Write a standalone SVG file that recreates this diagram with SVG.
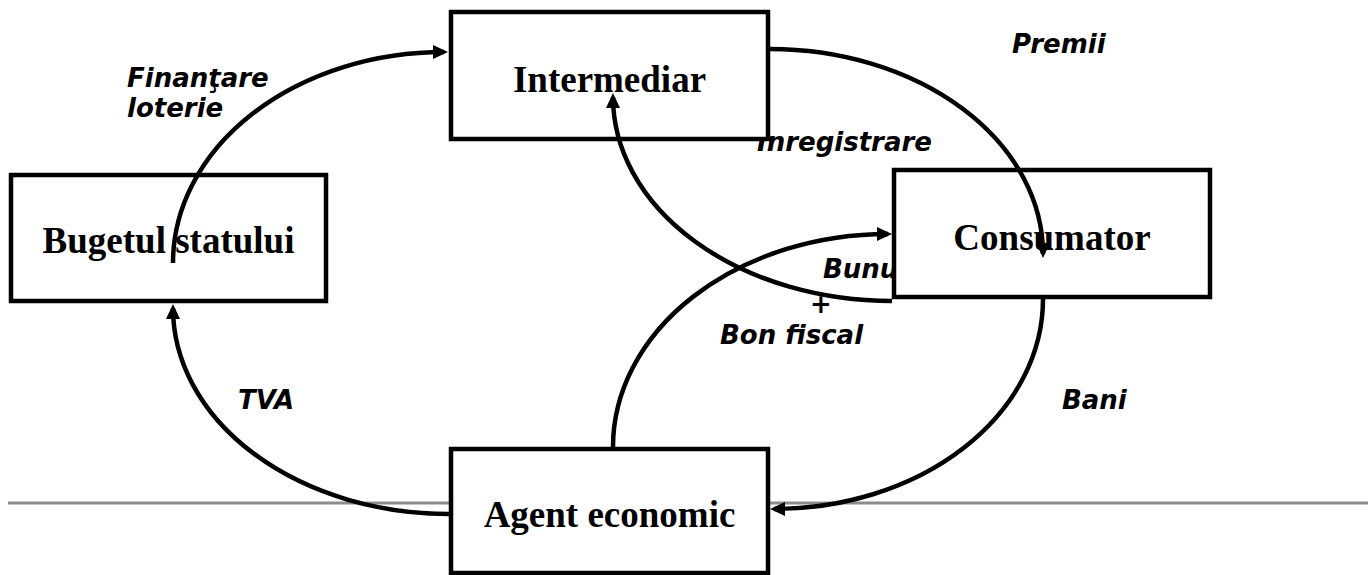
<svg xmlns="http://www.w3.org/2000/svg" width="1368" height="575" viewBox="0 0 1368 575">
<style>
.box{fill:#fff;stroke:#000;stroke-width:4.5}
.nt{font-family:"Liberation Serif","Times New Roman",serif;font-weight:bold;font-size:37px;fill:#000;text-anchor:middle}
.lb{font-family:"DejaVu Sans",Verdana,sans-serif;font-weight:bold;font-style:italic;font-size:26px;fill:#000}
.cn{fill:none;stroke:#000;stroke-width:4.5;marker-end:url(#ah)}
</style>
<defs>
<marker id="ah" markerUnits="userSpaceOnUse" markerWidth="16" markerHeight="16" refX="11" refY="7" orient="auto">
<path d="M0,0 L15,7 L0,14 z" fill="#000"/>
</marker>
</defs>
<rect width="1368" height="575" fill="#fff"/>
<line x1="8" y1="503" x2="1368" y2="503" stroke="#8c8c8c" stroke-width="3"/>
<g id="labels">
<text class="lb" x="127" y="87">Finanţare</text>
<text class="lb" x="127" y="117">loterie</text>
<text class="lb" x="1012" y="53">Premii</text>
<text class="lb" x="757" y="151">Inregistrare</text>
<text class="lb" x="823" y="278">Bunuri</text>
<text class="lb" x="821" y="313" text-anchor="middle">+</text>
<text class="lb" x="720" y="344">Bon fiscal</text>
<text class="lb" x="238" y="409">TVA</text>
<text class="lb" x="1062" y="409">Bani</text>
</g>
<g id="bugetul">
<rect class="box" x="11" y="175" width="315" height="126"/>
<text class="nt" x="168.5" y="253">Bugetul statului</text>
</g>
<g id="intermediar">
<rect class="box" x="451" y="12" width="317" height="127"/>
<text class="nt" x="609.5" y="92">Intermediar</text>
</g>
<g id="consumator">
<rect class="box" x="894" y="170" width="316" height="127"/>
<text class="nt" x="1052" y="250">Consumator</text>
</g>
<g id="agent">
<rect class="box" x="451" y="449" width="317" height="124"/>
<text class="nt" x="609.5" y="527">Agent economic</text>
</g>
<g id="connectors">
<path class="cn" d="M173,263 A271,211 0 0 1 444,52"/>
<path class="cn" d="M770,49 A273,205 0 0 1 1043,254"/>
<path class="cn" d="M892,301 A279,204 0 0 1 613,97"/>
<path class="cn" d="M613,447 A275,213 0 0 1 888,234"/>
<path class="cn" d="M1043,299 A269,210 0 0 1 774,509"/>
<path class="cn" d="M449,514 A276,206 0 0 1 173,308"/>
</g>
</svg>
